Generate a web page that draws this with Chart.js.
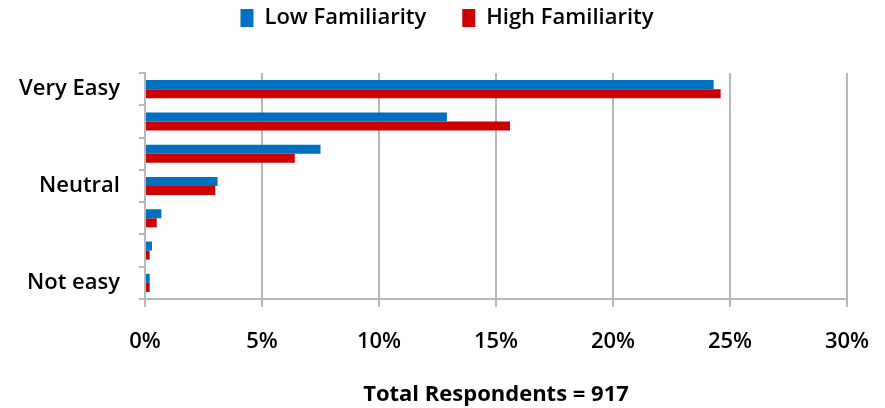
<!DOCTYPE html>
<html>
<head>
<meta charset="utf-8">
<script src="https://cdn.jsdelivr.net/npm/chart.js@4"></script>
<style>
  html, body { margin: 0; padding: 0; background: #fff; }
  #wrap { width: 885px; height: 408px; }
</style>
</head>
<body>
<div id="wrap"><canvas id="easeChart" width="885" height="408"></canvas></div>
<script>
const categories = ['Very Easy', '', '', 'Neutral', '', '', 'Not easy'];
const lowFamiliarity = [24.3, 12.9, 7.5, 3.1, 0.7, 0.3, 0.2];
const highFamiliarity = [24.6, 15.6, 6.4, 3.0, 0.5, 0.2, 0.2];
const xTicks = [0, 5, 10, 15, 20, 25, 30];

const font = '"Open Sans", "DejaVu Sans", sans-serif';

// legend sits near the top with wide spacing between items,
// plot area starts well below it
const legendPlace = {
    id: 'legendPlace',
    beforeInit(chart) {
        const fit = chart.legend.fit;
        chart.legend.fit = function() {
            fit.bind(chart.legend)();
            this.height = 69;
        };
    },
    afterLayout(chart) {
        chart.legend.top -= 33;
        chart.legend.left += 47;
    }
};

const ctx = document.getElementById('easeChart').getContext('2d');
const easeChart = new Chart(ctx, {
    type: 'bar',
    data: {
        labels: categories,
        datasets: [
            { label: 'Low Familiarity', data: lowFamiliarity, backgroundColor: '#0070c0' },
            { label: 'High Familiarity', data: highFamiliarity, backgroundColor: '#cc0000' }
        ]
    },
    options: {
        indexAxis: 'y',
        responsive: false,
        animation: false,
        layout: { padding: { left: 0, right: 38, top: 4, bottom: 0 } },
        datasets: { bar: { categoryPercentage: 0.56, barPercentage: 1.0 } },
        plugins: {
            legend: {
                position: 'top',
                labels: {
                    font: { family: font, size: 22, weight: '600' },
                    color: '#000',
                    boxWidth: 13,
                    boxHeight: 18,
                    padding: 36
                }
            },
            tooltip: { enabled: false }
        },
        scales: {
            x: {
                min: 0,
                max: 30,
                afterBuildTicks: function(scale) {
                    scale.ticks = xTicks.map(v => ({ value: v }));
                },
                afterFit: function(scale) {
                    scale.height = 109;
                    scale.paddingRight = 0;
                    scale.paddingLeft = 0;
                },
                ticks: {
                    callback: v => v + '%',
                    font: { family: font, size: 22, weight: '600' },
                    color: '#000',
                    padding: 22
                },
                grid: { color: '#b8b8b8', lineWidth: 2, tickLength: 8 },
                border: { color: '#b8b8b8', width: 2 },
                title: {
                    display: true,
                    text: 'Total Respondents = 917',
                    font: { family: font, size: 22, weight: 'bold' },
                    color: '#000',
                    padding: { top: 27, bottom: 0 }
                }
            },
            y: {
                afterFit: function(scale) { scale.width = 145; },
                ticks: {
                    font: { family: font, size: 22, weight: '600' },
                    color: '#000',
                    padding: 19,
                    autoSkip: false
                },
                grid: { drawOnChartArea: false, color: '#b8b8b8', lineWidth: 2, tickLength: 6 },
                border: { color: '#b8b8b8', width: 2 }
            }
        }
    },
    plugins: [legendPlace]
});
</script>
</body>
</html>
